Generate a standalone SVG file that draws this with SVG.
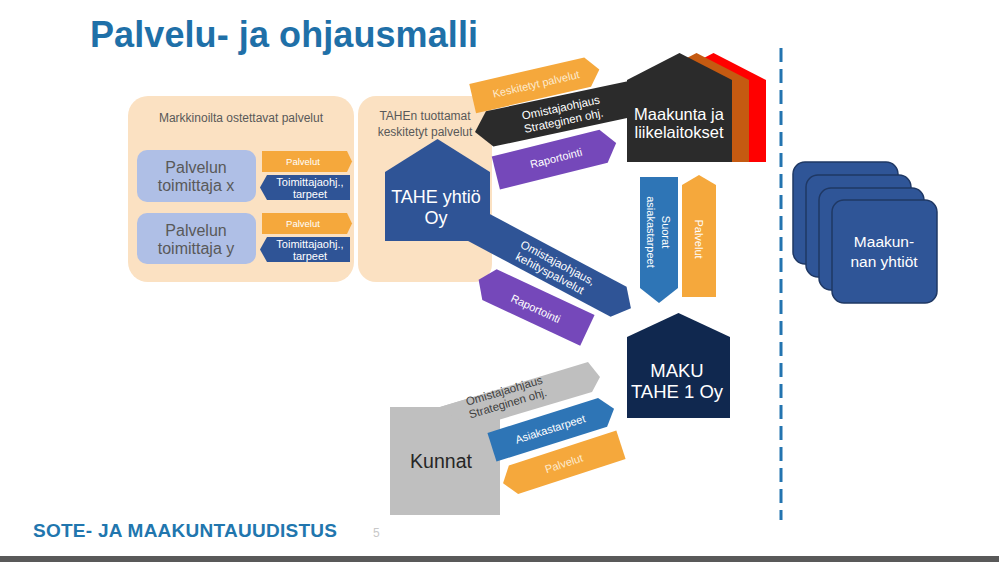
<svg xmlns="http://www.w3.org/2000/svg" width="999" height="562" viewBox="0 0 999 562">
<style>
text{font-family:"Liberation Sans",Arial,sans-serif}
.peach{fill:#FBE1C2}
.lav{fill:#AFBFE6}
.org{fill:#F5A83C}
.dblue{fill:#2F5496}
.mblue{fill:#2E75B6}
.purp{fill:#7548BA}
.blk{fill:#2B2B2B}
.gray{fill:#BFBFBF}
.wt{fill:#FFFFFF;text-anchor:middle}
.lt{fill:#FDEBD0;text-anchor:middle}
.gt{fill:#595959;text-anchor:middle}
.stack{fill:#2F5597;stroke:#1F3864;stroke-width:1.5}
</style>
<rect width="999" height="562" fill="#FFFFFF"/>
<text x="90" y="47" font-size="36" font-weight="bold" fill="#1F70A8" textLength="388">Palvelu- ja ohjausmalli</text>

<g id="markkinat">
<rect class="peach" x="128" y="96" width="226" height="186" rx="20"/>
<text class="gt" x="241" y="122" font-size="12">Markkinoilta ostettavat palvelut</text>
</g>
<g id="tahe-keskitetyt">
<rect class="peach" x="358" y="96" width="134" height="186" rx="18"/>
<text class="gt" x="425" y="120" font-size="12">TAHEn tuottamat</text>
<text class="gt" x="425" y="136" font-size="12">keskitetyt palvelut</text>
</g>

<g id="kunnat">
<polygon class="gray" points="390,407 440,407 500,389 500,515 390,515"/>
<text x="441" y="468" font-size="19.5" fill="#262626" text-anchor="middle">Kunnat</text>
</g>

<g id="connectors">
<!-- left supplier arrows -->
<polygon class="org" points="262,151 347,151 352,161.5 347,172 262,172"/>
<text class="wt" x="303" y="165" font-size="9.5">Palvelut</text>
<polygon class="dblue" points="260,187.5 267,175 350,175 350,200 267,200"/>
<text class="wt" x="310" y="186" font-size="11">Toimittajaohj.,</text>
<text class="wt" x="310" y="197.5" font-size="11">tarpeet</text>
<polygon class="org" points="262,213 347,213 352,223.5 347,234 262,234"/>
<text class="wt" x="303" y="227" font-size="9.5">Palvelut</text>
<polygon class="dblue" points="260,249.5 267,237 350,237 350,262 267,262"/>
<text class="wt" x="310" y="248" font-size="11">Toimittajaohj.,</text>
<text class="wt" x="310" y="259.5" font-size="11">tarpeet</text>

<!-- TAHE <-> Maakunta -->
<g transform="translate(536,84) rotate(-13)">
<polygon class="org" points="-65,-15 53,-15 65,0 53,15 -65,15"/>
<text class="lt" x="0" y="4" font-size="11">Keskitetyt palvelut</text>
</g>
<g transform="translate(475,132) rotate(-12)">
<polygon class="blk" points="0,0 15,-18 172,-18 172,18 15,18"/>
<text class="wt" x="89" y="-2" font-size="11.5">Omistajaohjaus</text>
<text class="wt" x="89" y="11.5" font-size="11.5">Strateginen ohj.</text>
</g>
<g transform="translate(556,158) rotate(-14)">
<polygon class="purp" points="-62,-17 49,-17 62,0 49,17 -62,17"/>
<text class="wt" x="0" y="4" font-size="11">Raportointi</text>
</g>

<!-- TAHE <-> MAKU -->
<g transform="translate(555,268) rotate(28)">
<polygon class="dblue" points="-92,-17 72,-17 86,0 72,17 -92,17"/>
<text class="wt" x="0" y="-2" font-size="11.5">Omistajaohjaus,</text>
<text class="wt" x="-2" y="11" font-size="11.5">kehityspalvelut</text>
</g>
<g transform="translate(533,305) rotate(25)">
<polygon class="purp" points="-60,0 -48,-17 60,-17 60,17 -48,17"/>
<text class="wt" x="4" y="6" font-size="11">Raportointi</text>
</g>

<!-- Maakunta <-> MAKU -->
<polygon class="mblue" points="640,177 678,177 678,288 659,303 640,288"/>
<text class="wt" transform="translate(659,232) rotate(90)" x="0" y="-3" font-size="11">Suorat</text>
<text class="wt" transform="translate(659,232) rotate(90)" x="0" y="12" font-size="11">asiakastarpeet</text>
<polygon class="org" points="682,185 699,175 716,185 716,297 682,297"/>
<text class="wt" transform="translate(699,239) rotate(90)" x="0" y="4" font-size="11">Palvelut</text>

<!-- Kunnat <-> MAKU -->
<polygon class="gray" points="440,407 588,362 600,377 592,392 495,421 460,421"/>
<text transform="translate(506,397) rotate(-16.5)" x="0" y="-2.5" font-size="11.5" fill="#404040" text-anchor="middle">Omistajaohjaus</text>
<text transform="translate(506,397) rotate(-16.5)" x="0" y="10.5" font-size="11.5" fill="#404040" text-anchor="middle">Strateginen ohj.</text>
<g transform="translate(553,428) rotate(-17.5)">
<polygon class="mblue" points="-64,-15 52,-15 64,0 52,15 -64,15"/>
<text class="wt" x="-3" y="4" font-size="11">Asiakastarpeet</text>
</g>
<g transform="translate(562,464) rotate(-18)">
<polygon class="org" points="-62,0 -51,-15 62,-15 62,15 -51,15"/>
<text class="lt" x="2" y="4" font-size="11">Palvelut</text>
</g>
</g>

<g id="toimittaja-x">
<rect class="lav" x="137" y="150" width="119" height="52" rx="10"/>
<text class="gt" x="196" y="173" font-size="16">Palvelun</text>
<text class="gt" x="196" y="191" font-size="16">toimittaja x</text>
</g>
<g id="toimittaja-y">
<rect class="lav" x="137" y="213" width="119" height="51" rx="10"/>
<text class="gt" x="196" y="236" font-size="16">Palvelun</text>
<text class="gt" x="196" y="254" font-size="16">toimittaja y</text>
</g>

<g id="tahe-yhtio">
<polygon class="dblue" points="385,172 437.5,139 490,172 490,241 385,241"/>
<text class="wt" x="436" y="203" font-size="18">TAHE yhtiö</text>
<text class="wt" x="436" y="224" font-size="18">Oy</text>
</g>

<g id="maakunta">
<polygon fill="#FF0000" points="661,80 713.5,53 766,80 766,162 661,162"/>
<polygon fill="#C55A11" points="644,80 696.5,53 749,80 749,162 644,162"/>
<polygon class="blk" points="627,80 679.5,53 732,80 732,162 627,162"/>
<text class="wt" x="679" y="120" font-size="16.5">Maakunta ja</text>
<text class="wt" x="679" y="138" font-size="16.5">liikelaitokset</text>
</g>

<g id="maku-tahe">
<polygon fill="#10284F" points="627,337 678.5,313 730,337 730,418 627,418"/>
<text class="wt" x="677" y="377" font-size="18.5">MAKU</text>
<text class="wt" x="677" y="398" font-size="18.5">TAHE 1 Oy</text>
</g>

<line x1="781" y1="48" x2="781" y2="520" stroke="#2374B0" stroke-width="3" stroke-dasharray="14 7"/>

<g id="maakunnan-yhtiot">
<rect class="stack" x="793" y="162" width="105" height="102" rx="12"/>
<rect class="stack" x="806" y="175" width="105" height="102" rx="12"/>
<rect class="stack" x="819" y="188" width="105" height="102" rx="12"/>
<rect class="stack" x="832" y="200" width="105" height="103" rx="12"/>
<text class="wt" x="884" y="247" font-size="15.5">Maakun-</text>
<text class="wt" x="884" y="267" font-size="15.5">nan yhtiöt</text>
</g>

<text x="33" y="537" font-size="19" font-weight="bold" fill="#2176AE" textLength="304">SOTE- JA MAAKUNTAUUDISTUS</text>
<text x="373" y="537" font-size="12" fill="#C8C8C8">5</text>
<rect x="0" y="556" width="999" height="6" fill="#595959"/>
</svg>
